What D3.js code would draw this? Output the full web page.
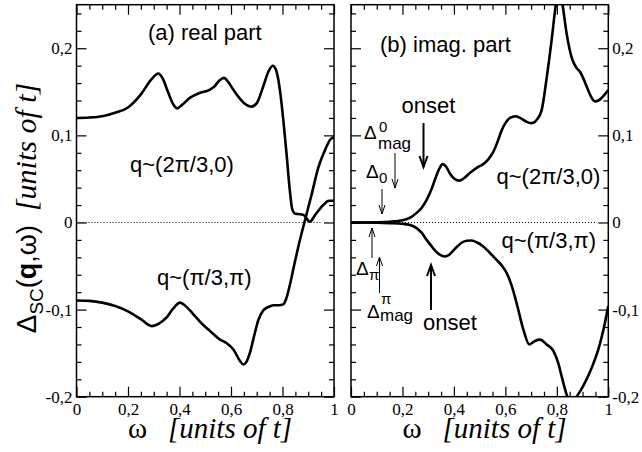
<!DOCTYPE html>
<html><head><meta charset="utf-8">
<script src="https://cdn.jsdelivr.net/npm/d3@7"></script>
<style>body{margin:0;background:#fff} svg{display:block}
.serif{font-family:"Liberation Serif","Times New Roman","Nimbus Roman","DejaVu Serif","Noto Serif",serif !important}
.sans{font-family:"Liberation Sans",Arial,Helvetica,"DejaVu Sans",sans-serif}
</style>
</head><body>
<svg id="c" width="642" height="452"></svg>
<script>
// ---- data ----
const xTicks = [0, 0.2, 0.4, 0.6, 0.8, 1];
const xTickLabels = ["0", "0,2", "0,4", "0,6", "0,8", "1"];
const yTicks = [-0.2, -0.1, 0, 0.1, 0.2];
const yTickLabels = ["-0,2", "-0,1", "0", "0,1", "0,2"];

// (a) real part, q~(2π/3,0)
const realQ1 = [[0,0.120],[0.05,0.1205],[0.1,0.122],[0.15,0.126],[0.2,0.132],[0.25,0.147],[0.29,0.164],[0.318,0.171],[0.335,0.165],[0.355,0.150],[0.375,0.136],[0.391,0.131],[0.41,0.135],[0.44,0.143],[0.48,0.149],[0.515,0.152],[0.535,0.156],[0.555,0.163],[0.573,0.166],[0.59,0.161],[0.61,0.152],[0.635,0.142],[0.66,0.135],[0.68,0.133],[0.7,0.137],[0.725,0.156],[0.745,0.173],[0.762,0.180],[0.775,0.175],[0.79,0.152],[0.803,0.118],[0.816,0.078],[0.828,0.038],[0.838,0.015],[0.85,0.010],[0.87,0.0095],[0.885,0.008],[0.906,0.001],[0.93,0.010],[0.958,0.020],[0.98,0.025],[1.0,0.025]];
// (a) real part, q~(π/3,π)
const realQ2 = [[0,-0.0895],[0.05,-0.090],[0.1,-0.092],[0.15,-0.096],[0.2,-0.102],[0.25,-0.111],[0.292,-0.119],[0.32,-0.116],[0.35,-0.109],[0.375,-0.099],[0.402,-0.092],[0.42,-0.095],[0.45,-0.104],[0.48,-0.114],[0.52,-0.125],[0.555,-0.134],[0.585,-0.139],[0.61,-0.146],[0.635,-0.159],[0.648,-0.163],[0.66,-0.160],[0.675,-0.148],[0.69,-0.130],[0.706,-0.112],[0.725,-0.101],[0.745,-0.097],[0.765,-0.095],[0.785,-0.095],[0.803,-0.094],[0.815,-0.087],[0.83,-0.070],[0.846,-0.048],[0.862,-0.027],[0.885,0.000],[0.913,0.032],[0.939,0.063],[0.965,0.083],[0.985,0.095],[1.0,0.098]];
// (b) imag. part, q~(2π/3,0)
const imagQ1 = [[0,0],[0.05,0.0],[0.1,0.0002],[0.15,0.0008],[0.2,0.0025],[0.23,0.0055],[0.255,0.011],[0.275,0.017],[0.294,0.026],[0.31,0.036],[0.326,0.049],[0.342,0.061],[0.356,0.067],[0.37,0.064],[0.385,0.056],[0.403,0.050],[0.421,0.048],[0.44,0.051],[0.463,0.057],[0.49,0.063],[0.514,0.067],[0.535,0.073],[0.553,0.081],[0.57,0.093],[0.586,0.106],[0.6,0.114],[0.618,0.120],[0.64,0.122],[0.657,0.120],[0.68,0.116],[0.7,0.114],[0.712,0.115],[0.722,0.118],[0.741,0.129],[0.761,0.167],[0.78,0.210],[0.797,0.252],[0.809,0.268],[0.821,0.252],[0.838,0.217],[0.858,0.189],[0.875,0.178],[0.89,0.173],[0.905,0.164],[0.916,0.156],[0.932,0.145],[0.948,0.139],[0.962,0.140],[0.974,0.143],[1.0,0.152]];
// (b) imag. part, q~(π/3,π)
const imagQ2 = [[0,0],[0.05,0],[0.1,-0.0002],[0.15,-0.0007],[0.2,-0.0015],[0.23,-0.003],[0.255,-0.0065],[0.275,-0.012],[0.294,-0.020],[0.31,-0.026],[0.326,-0.032],[0.345,-0.037],[0.365,-0.039],[0.382,-0.037],[0.398,-0.032],[0.415,-0.027],[0.431,-0.023],[0.45,-0.021],[0.469,-0.0207],[0.49,-0.023],[0.514,-0.0275],[0.54,-0.035],[0.566,-0.043],[0.585,-0.049],[0.605,-0.058],[0.625,-0.073],[0.644,-0.093],[0.67,-0.123],[0.693,-0.140],[0.715,-0.136],[0.735,-0.1345],[0.76,-0.140],[0.786,-0.147],[0.805,-0.161],[0.819,-0.177],[0.841,-0.200],[0.86,-0.208],[0.877,-0.200],[0.9,-0.189],[0.922,-0.176],[0.942,-0.162],[0.961,-0.146],[0.987,-0.115],[1.0,-0.096]];

// ---- drawing ----
const svg = d3.select("#c");
const Y0 = 396.7, Y1 = 4.7;
const y = d3.scaleLinear().domain([-0.2, 0.25]).range([Y0, Y1]);
const xMinor = d3.range(0, 1.0001, 0.05).filter(v => Math.abs(v/0.2 - Math.round(v/0.2)) > 1e-6);
const yMinor = d3.range(-0.2, 0.2501, 0.02).filter(v => Math.abs(v/0.1 - Math.round(v/0.1)) > 1e-6);

const panels = [
  {x0: 76.5, x1: 334, series: [realQ1, realQ2], labelSide: "left", id: "pa"},
  {x0: 351, x1: 608.3, series: [imagQ1, imagQ2], labelSide: "right", id: "pb"}
];

function styleAxis(g, withLabels) {
  g.attr("font-family", null);
  g.select(".domain").remove();
  g.selectAll(".tick line").attr("stroke", "#000").attr("stroke-width", 1.2);
  g.selectAll("text").attr("class", "serif").attr("font-size", 17).attr("fill", "#000");
  if (!withLabels) g.selectAll("text").remove();
}

panels.forEach(p => {
  const x = d3.scaleLinear().domain([0, 1]).range([p.x0, p.x1]);
  const fmtX = v => xTickLabels[xTicks.findIndex(t => Math.abs(t - v) < 1e-9)];
  const fmtY = v => yTickLabels[yTicks.findIndex(t => Math.abs(t - v) < 1e-9)];

  svg.append("clipPath").attr("id", p.id + "clip")
    .append("rect").attr("x", p.x0).attr("y", Y1).attr("width", p.x1 - p.x0).attr("height", Y0 - Y1);

  svg.append("line").attr("x1", x(0)).attr("x2", x(0.95)).attr("y1", y(0)).attr("y2", y(0))
    .attr("stroke", "#000").attr("stroke-width", 1).attr("stroke-dasharray", "1,2");

  const line = d3.line().x(d => x(d[0])).y(d => y(d[1])).curve(d3.curveMonotoneX);
  const cg = svg.append("g").attr("clip-path", `url(#${p.id}clip)`);
  p.series.forEach(s => {
    cg.append("path").attr("d", line(s)).attr("fill", "none").attr("stroke", "#000")
      .attr("stroke-width", 2.6).attr("stroke-linejoin", "round");
  });

  svg.append("g").attr("transform", `translate(0,${Y0})`)
    .call(d3.axisBottom(x).tickValues(xMinor).tickSize(-5).tickFormat(""))
    .call(g => styleAxis(g, false));
  svg.append("g").attr("transform", `translate(0,${Y0})`)
    .call(d3.axisBottom(x).tickValues(xTicks).tickSize(-10).tickPadding(6).tickFormat(fmtX))
    .call(g => styleAxis(g, true));
  svg.append("g").attr("transform", `translate(0,${Y1})`)
    .call(d3.axisTop(x).tickValues(xMinor).tickSize(-5).tickFormat(""))
    .call(g => styleAxis(g, false));
  svg.append("g").attr("transform", `translate(0,${Y1})`)
    .call(d3.axisTop(x).tickValues(xTicks).tickSize(-10).tickFormat(""))
    .call(g => styleAxis(g, false));
  svg.append("g").attr("transform", `translate(${p.x0},0)`)
    .call(d3.axisLeft(y).tickValues(yMinor).tickSize(-5).tickFormat(""))
    .call(g => styleAxis(g, false));
  svg.append("g").attr("transform", `translate(${p.x0},0)`)
    .call(d3.axisLeft(y).tickValues(yTicks).tickSize(-10).tickPadding(4).tickFormat(fmtY))
    .call(g => styleAxis(g, p.labelSide === "left"));
  svg.append("g").attr("transform", `translate(${p.x1},0)`)
    .call(d3.axisRight(y).tickValues(yMinor).tickSize(-5).tickFormat(""))
    .call(g => styleAxis(g, false));
  svg.append("g").attr("transform", `translate(${p.x1},0)`)
    .call(d3.axisRight(y).tickValues(yTicks).tickSize(-10).tickPadding(4).tickFormat(fmtY))
    .call(g => styleAxis(g, p.labelSide === "right"));

  svg.append("rect").attr("x", p.x0).attr("y", Y1).attr("width", p.x1 - p.x0).attr("height", Y0 - Y1)
    .attr("fill", "none").attr("stroke", "#000").attr("stroke-width", 1.5);

  const xl = p.x0 + 51.5;
  svg.append("text").attr("class", "serif").attr("x", xl).attr("y", 438).attr("font-size", 29).text("ω");
  svg.append("text").attr("class", "serif").attr("x", xl + 40).attr("y", 438).attr("font-size", 29)
    .attr("font-style", "italic").text("[units of t]");
});

// y-axis title
const yt = svg.append("text").attr("class", "sans").attr("transform", "translate(36,208) rotate(-90)")
  .attr("text-anchor", "middle").attr("font-size", 28);
yt.append("tspan").text("Δ");
yt.append("tspan").attr("font-size", 19).attr("dy", 7).text("SC");
yt.append("tspan").attr("dy", -7).attr("font-size", 27).text("(");
yt.append("tspan").attr("font-size", 27).attr("font-weight", "bold").text("q");
yt.append("tspan").attr("font-size", 27).text(",ω)");
yt.append("tspan").attr("class", "serif").attr("dx", 14).attr("font-style", "italic").attr("font-size", 30).text("[units of t]");

// annotations
function label(x, yy, txt, size) {
  return svg.append("text").attr("class", "sans").attr("x", x).attr("y", yy)
    .attr("font-size", size || 22).text(txt);
}
label(148, 40, "(a) real part");
label(130, 172, "q~(2π/3,0)");
label(157, 285, "q~(π/3,π)");
label(380, 52, "(b) imag. part");
label(401.5, 113, "onset");
label(496.5, 184, "q~(2π/3,0)");
label(501.5, 248, "q~(π/3,π)");
label(423, 330, "onset");

// Delta labels
label(364, 139, "Δ", 19); label(379, 132, "0", 15); label(378, 149, "mag", 17);
label(366, 178, "Δ", 19); label(379, 183, "0", 15);
label(356, 275, "Δ", 19); label(369, 280, "π", 15);
label(367, 318, "Δ", 19); label(381, 304, "π", 15); label(380, 321, "mag", 17);

// arrows
function arrow(x, tail, head, w, hw, hl) {
  const dir = head > tail ? 1 : -1;
  svg.append("line").attr("x1", x).attr("x2", x).attr("y1", tail).attr("y2", head)
    .attr("stroke", "#000").attr("stroke-width", w);
  svg.append("path").attr("d", `M${x - hw},${head - dir * hl}L${x},${head}L${x + hw},${head - dir * hl}`)
    .attr("fill", "none").attr("stroke", "#000").attr("stroke-width", w);
}
arrow(423.5, 123, 167, 2, 4, 11);
arrow(395, 153, 188, 1, 3, 9);
arrow(382, 189, 214, 1, 3, 9);
arrow(372, 258, 228, 1, 3, 9);
arrow(379.5, 293, 257, 1, 3, 9);
arrow(431, 310, 265, 2, 4, 11);
</script>
</body></html>
